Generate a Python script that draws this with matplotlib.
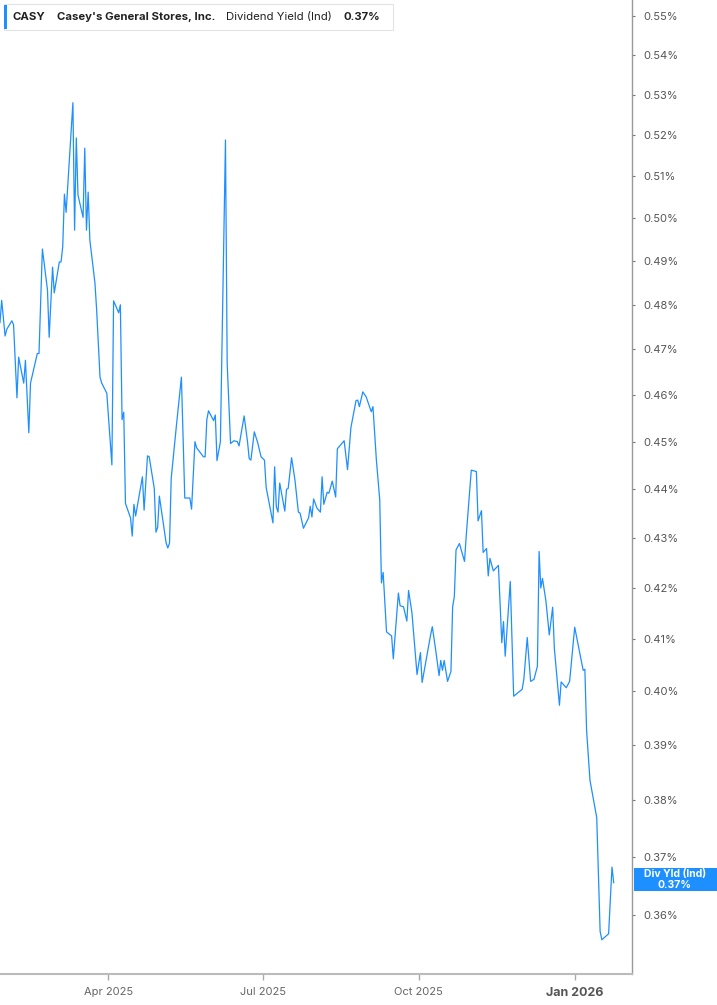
import matplotlib
matplotlib.use("Agg")
import matplotlib.pyplot as plt
import matplotlib.dates as mdates
from matplotlib.patches import Rectangle
from matplotlib.ticker import FixedLocator, NullLocator
import pandas as pd

# dividend yield (%)
dates = [
    "2025-01-27", "2025-01-28", "2025-01-30", "2025-01-31", "2025-02-03", "2025-02-04",
    "2025-02-06", "2025-02-07", "2025-02-10", "2025-02-11", "2025-02-13", "2025-02-14",
    "2025-02-18", "2025-02-19", "2025-02-21", "2025-02-24", "2025-02-25", "2025-02-27",
    "2025-02-28", "2025-03-03", "2025-03-04", "2025-03-05", "2025-03-06", "2025-03-07",
    "2025-03-11", "2025-03-12", "2025-03-13", "2025-03-14", "2025-03-17", "2025-03-18",
    "2025-03-19", "2025-03-20", "2025-03-21", "2025-03-24", "2025-03-25", "2025-03-27",
    "2025-03-28", "2025-03-31", "2025-04-03", "2025-04-04", "2025-04-07", "2025-04-08",
    "2025-04-09", "2025-04-10", "2025-04-11", "2025-04-14", "2025-04-15", "2025-04-16",
    "2025-04-17", "2025-04-21", "2025-04-22", "2025-04-24", "2025-04-25", "2025-04-28",
    "2025-04-29", "2025-04-30", "2025-05-01", "2025-05-05", "2025-05-06", "2025-05-07",
    "2025-05-08", "2025-05-11", "2025-05-14", "2025-05-16", "2025-05-19", "2025-05-20",
    "2025-05-22", "2025-05-23", "2025-05-27", "2025-05-28", "2025-05-29", "2025-05-30",
    "2025-06-02", "2025-06-03", "2025-06-04", "2025-06-06", "2025-06-09", "2025-06-10",
    "2025-06-12", "2025-06-14", "2025-06-16", "2025-06-17", "2025-06-20", "2025-06-22",
    "2025-06-23", "2025-06-24", "2025-06-26", "2025-06-28", "2025-06-30", "2025-07-02",
    "2025-07-03", "2025-07-07", "2025-07-08", "2025-07-09", "2025-07-10", "2025-07-11",
    "2025-07-14", "2025-07-15", "2025-07-16", "2025-07-18", "2025-07-20", "2025-07-22",
    "2025-07-23", "2025-07-25", "2025-07-28", "2025-07-29", "2025-07-30", "2025-07-31",
    "2025-08-02", "2025-08-04", "2025-08-05", "2025-08-06", "2025-08-08", "2025-08-09",
    "2025-08-11", "2025-08-13", "2025-08-14", "2025-08-18", "2025-08-20", "2025-08-22",
    "2025-08-25", "2025-08-26", "2025-08-27", "2025-08-29", "2025-08-31", "2025-09-03",
    "2025-09-04", "2025-09-06", "2025-09-08", "2025-09-09", "2025-09-10", "2025-09-12",
    "2025-09-15", "2025-09-16", "2025-09-19", "2025-09-20", "2025-09-22", "2025-09-24",
    "2025-09-25", "2025-09-27", "2025-09-30", "2025-10-02", "2025-10-03", "2025-10-08",
    "2025-10-09", "2025-10-11", "2025-10-13", "2025-10-14", "2025-10-15", "2025-10-16",
    "2025-10-18", "2025-10-20", "2025-10-21", "2025-10-22", "2025-10-23", "2025-10-25",
    "2025-10-28", "2025-10-29", "2025-11-01", "2025-11-04", "2025-11-05", "2025-11-07",
    "2025-11-08", "2025-11-10", "2025-11-11", "2025-11-12", "2025-11-14", "2025-11-17",
    "2025-11-19", "2025-11-20", "2025-11-21", "2025-11-24", "2025-11-26", "2025-12-01",
    "2025-12-02", "2025-12-04", "2025-12-06", "2025-12-08", "2025-12-10", "2025-12-11",
    "2025-12-12", "2025-12-13", "2025-12-15", "2025-12-17", "2025-12-19", "2025-12-20",
    "2025-12-23", "2025-12-24", "2025-12-27", "2025-12-29", "2026-01-01", "2026-01-03",
    "2026-01-06", "2026-01-07", "2026-01-08", "2026-01-10", "2026-01-14", "2026-01-16",
    "2026-01-17", "2026-01-21", "2026-01-23", "2026-01-24",
]
div_yield = [
    0.476, 0.481, 0.473, 0.4745, 0.4764, 0.4755,
    0.4594, 0.4683, 0.4626, 0.4676, 0.4519, 0.4626,
    0.4691, 0.4691, 0.4928, 0.4834, 0.4727, 0.4886,
    0.4827, 0.4898, 0.4898, 0.4933, 0.5057, 0.5014,
    0.528, 0.4972, 0.5193, 0.5055, 0.5002, 0.5168,
    0.4972, 0.5062, 0.4949, 0.485, 0.4789, 0.4639,
    0.4626, 0.4604, 0.4451, 0.4809, 0.4782, 0.480,
    0.4547, 0.4563, 0.4371, 0.4341, 0.4304, 0.4369,
    0.4345, 0.4426, 0.4357, 0.447, 0.4468, 0.4402,
    0.4312, 0.4322, 0.4386, 0.429, 0.428, 0.429,
    0.4423, 0.4532, 0.4639, 0.4382, 0.4382, 0.4359,
    0.450, 0.4487, 0.4468, 0.4468, 0.4547, 0.4566,
    0.4545, 0.4557, 0.446, 0.450, 0.5188, 0.467,
    0.4496, 0.4502, 0.450, 0.4491, 0.4555, 0.450,
    0.4464, 0.4461, 0.4521, 0.4498, 0.4468, 0.4461,
    0.4404, 0.4331, 0.4447, 0.4364, 0.4353, 0.4413,
    0.4355, 0.440, 0.4402, 0.4466, 0.4419, 0.4353,
    0.4351, 0.432, 0.4341, 0.4365, 0.4343, 0.438,
    0.4361, 0.4353, 0.4426, 0.4369, 0.4394, 0.4392,
    0.4417, 0.4384, 0.4485, 0.4502, 0.4441, 0.453,
    0.4588, 0.4589, 0.4575, 0.4607, 0.4596, 0.4564,
    0.4575, 0.4462, 0.4378, 0.421, 0.4231, 0.4114,
    0.4106, 0.4062, 0.419, 0.4165, 0.4163, 0.4135,
    0.4195, 0.4151, 0.4032, 0.4074, 0.4017, 0.4108,
    0.4124, 0.4079, 0.403, 0.4059, 0.404, 0.4059,
    0.4019, 0.4038, 0.4163, 0.4183, 0.4276, 0.4289,
    0.4253, 0.4304, 0.444, 0.4437, 0.4335, 0.4356,
    0.4271, 0.4279, 0.4224, 0.4259, 0.4234, 0.4245,
    0.4093, 0.4134, 0.4067, 0.4213, 0.3991, 0.4004,
    0.4023, 0.4103, 0.4019, 0.4023, 0.4048, 0.4273,
    0.420, 0.4219, 0.4175, 0.4108, 0.4162, 0.4082,
    0.3974, 0.4018, 0.4007, 0.4019, 0.4123, 0.409,
    0.404, 0.4042, 0.3928, 0.3836, 0.3769, 0.3572,
    0.3558, 0.3568, 0.3682, 0.3655,
]

ytick_values = [0.36, 0.37, 0.38, 0.39, 0.40, 0.41, 0.42, 0.43, 0.44, 0.45,
                0.46, 0.47, 0.48, 0.49, 0.50, 0.51, 0.52, 0.53, 0.54, 0.55]
xtick_dates = ["2025-04-01", "2025-07-01", "2025-10-01", "2026-01-01"]
xtick_labels = ["Apr 2025", "Jul 2025", "Oct 2025", "Jan 2026"]

ticker = "CASY"
company = "Casey's General Stores, Inc."
metric = "Dividend Yield (Ind)"
current = "0.37%"

BLUE = "#1e8fff"
W, H = 717, 1005

plt.rcParams["font.family"] = ["Inter", "DejaVu Sans"]

fig = plt.figure(figsize=(W / 100, H / 100), dpi=100)
ax = fig.add_axes([0, 31 / H, 632 / W, 1 - 31 / H])

x = pd.to_datetime(dates)
ax.plot(x, div_yield, color=BLUE, linewidth=0.9)

ax.set_yscale("log")
ax.set_ylim(0.3501, 0.5542)
ax.yaxis.set_major_locator(FixedLocator(ytick_values))
ax.yaxis.set_minor_locator(NullLocator())
ax.set_yticklabels([f"{v:.2f}%" for v in ytick_values])
ax.yaxis.tick_right()
ax.tick_params(axis="y", which="major", length=2, width=0.8, color="#777777",
               pad=6, labelsize=8, labelcolor="#555555")

start = pd.Timestamp("2025-01-27")
ax.set_xlim(start, start + pd.Timedelta(days=372.8))
ax.set_xticks(pd.to_datetime(xtick_dates))
ax.set_xticklabels(xtick_labels)
ax.tick_params(axis="x", length=4, width=1, color="#aaaaaa", pad=5,
               labelsize=8, labelcolor="#666666")
jan = ax.get_xticklabels()[-1]
jan.set_fontweight("bold")
jan.set_color("#555555")
jan.set_fontsize(9)

for side in ("left", "top"):
    ax.spines[side].set_visible(False)
ax.spines["right"].set_color("#999999")
ax.spines["right"].set_linewidth(1)
ax.spines["bottom"].set_color("#bbbbbb")
ax.spines["bottom"].set_linewidth(1.5)


def fx(px):
    return px / W


def fy(py):
    return 1 - py / H


fig.canvas.draw()
renderer = fig.canvas.get_renderer()

# header: texts laid out left to right with a fixed gap
hy = fy(17)
cursor = 13
for label, weight in [(ticker, "bold"), (company, "bold"), (metric, "normal"), (current, "bold")]:
    t = fig.text(fx(cursor), hy, label, fontsize=8.2, fontweight=weight,
                 color="#222222", va="center", zorder=5)
    cursor += t.get_window_extent(renderer).width + 11
box_right = cursor - 11 + 13

fig.patches.append(Rectangle((fx(4), fy(30)), fx(box_right - 4), 26 / H, transform=fig.transFigure,
                             facecolor="white", edgecolor="#e3e3e3", linewidth=0.8, zorder=2))
fig.patches.append(Rectangle((fx(4), fy(29)), fx(3), 24 / H, transform=fig.transFigure,
                             facecolor=BLUE, edgecolor="none", zorder=3))

# current value tag on the right axis
_, ty = ax.transData.transform((mdates.date2num(x[-1]), div_yield[-1]))
ty_px = H - ty
fig.patches.append(Rectangle((fx(634), fy(ty_px + 8)), fx(W - 634), 23 / H,
                             transform=fig.transFigure, facecolor=BLUE, edgecolor="none", zorder=2))
fig.text(fx(675), fy(ty_px - 9), "Div Yld (Ind)", fontsize=7.5, fontweight="bold",
         color="white", ha="center", va="center", zorder=5)
fig.text(fx(675), fy(ty_px + 2), current, fontsize=7.5, fontweight="bold",
         color="white", ha="center", va="center", zorder=5)

fig.savefig("out.png", dpi=100)
